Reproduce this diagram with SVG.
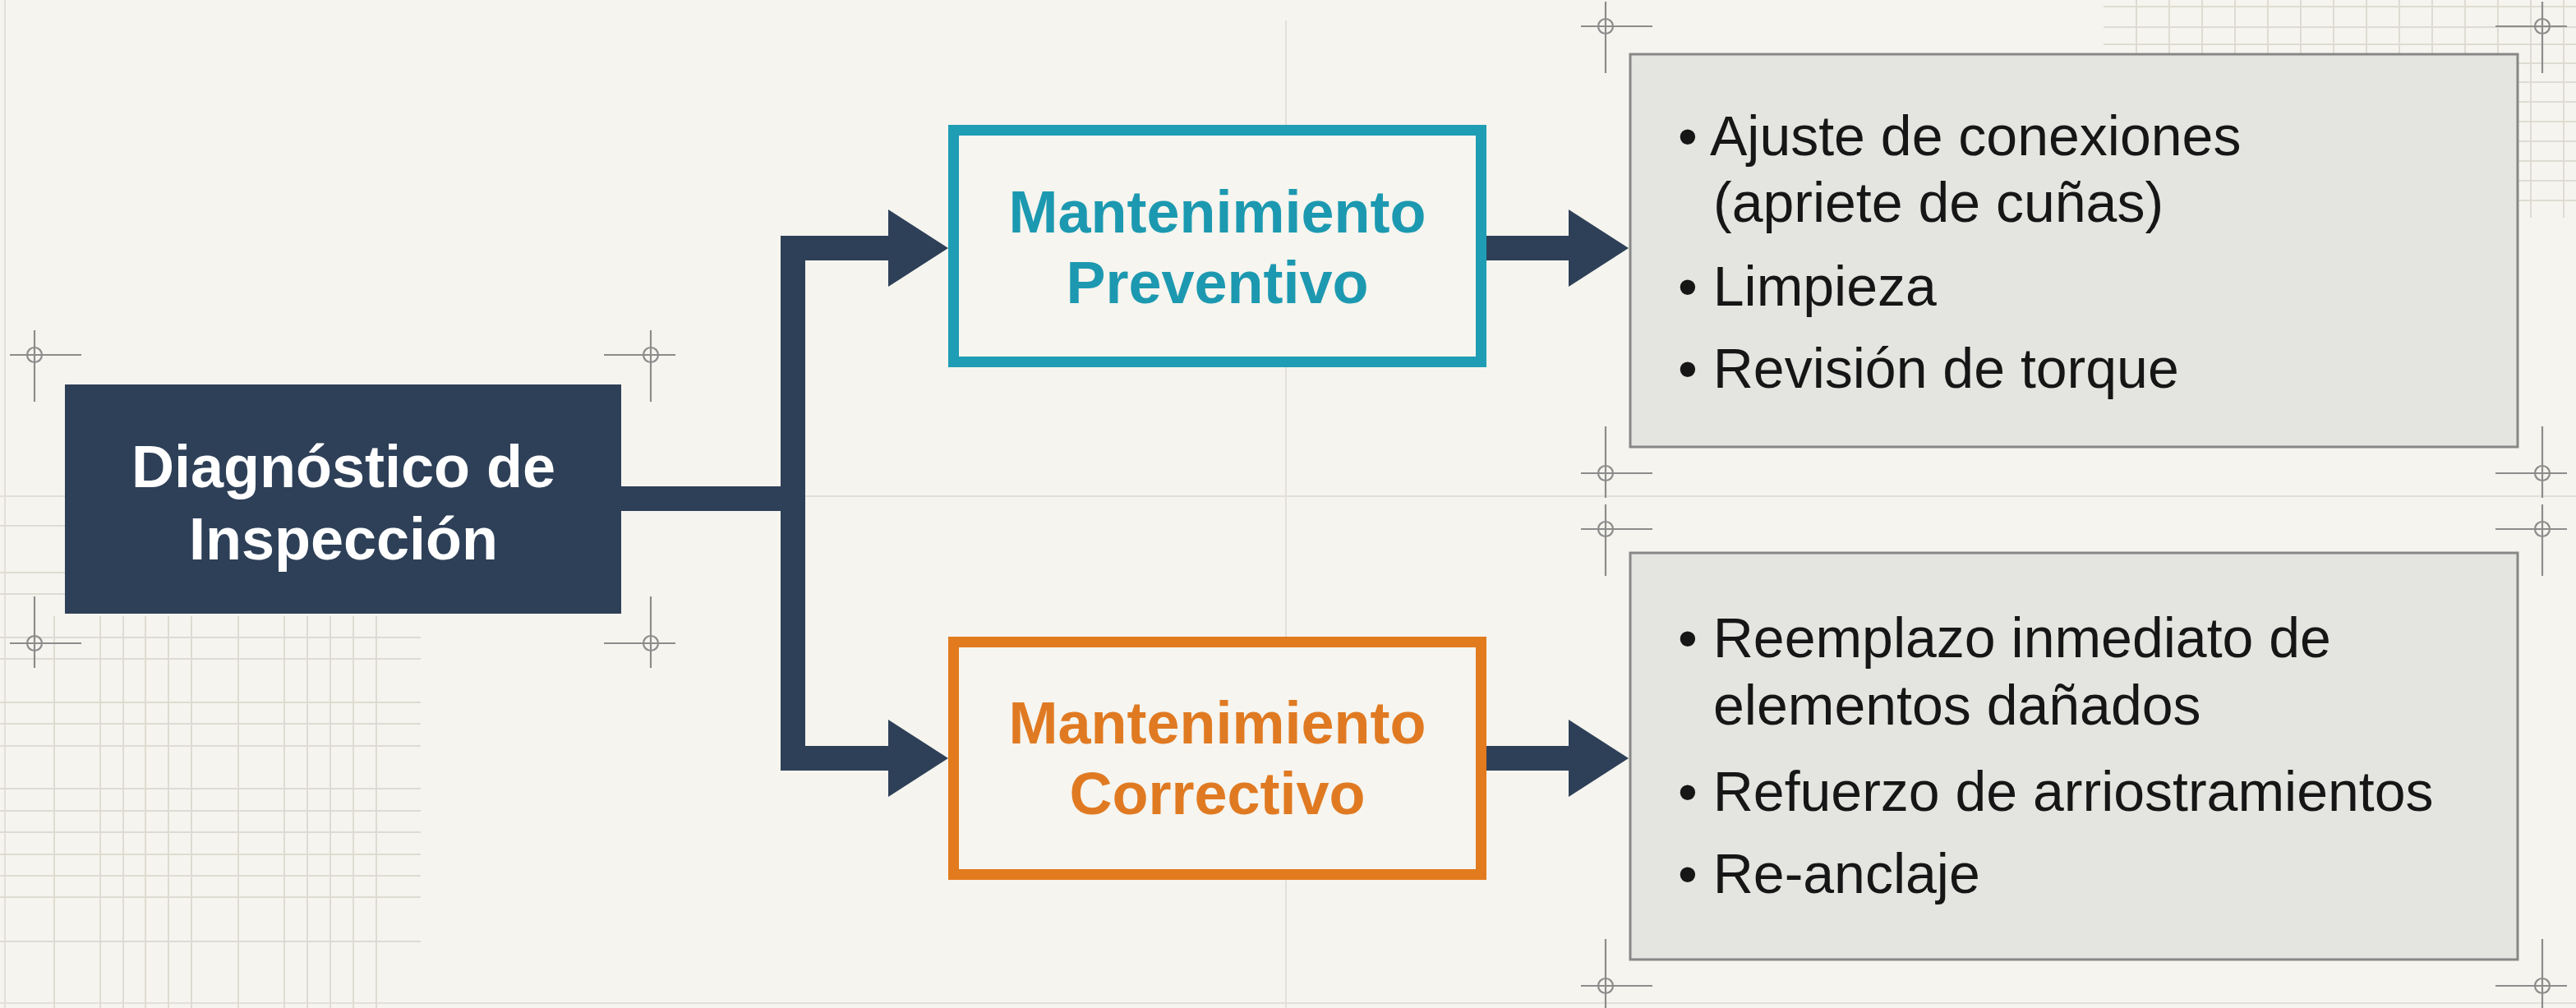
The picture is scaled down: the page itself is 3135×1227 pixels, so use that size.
<svg xmlns="http://www.w3.org/2000/svg" xmlns:xlink="http://www.w3.org/1999/xlink" width="3135" height="1227" viewBox="0 0 3135 1227">
  <style>
    .grid { stroke: #dedcd2; stroke-width: 2; fill: none; }
    .guide { stroke: #e2e0d7; stroke-width: 2; fill: none; }
    .mark { stroke: #8c8c8c; stroke-width: 2.2; fill: none; }
    .title { font-family: "Liberation Sans", Arial, sans-serif; font-weight: bold; font-size: 72px; text-anchor: middle; }
    .item { font-family: "Liberation Sans", Arial, sans-serif; font-size: 68px; fill: #161616; }
    .bar { stroke: #2e4058; stroke-width: 30; fill: none; stroke-linejoin: miter; }
    .head { fill: #2e4058; }
    .panel { fill: #e4e4e0; stroke: #878787; stroke-width: 3; }
  </style>
  <defs>
    <!-- registration crosshair: long arms point right and down -->
    <g id="cross">
      <circle class="mark" cx="0" cy="0" r="9"/>
      <line class="mark" x1="-30" y1="0" x2="57" y2="0"/>
      <line class="mark" x1="0" y1="-30" x2="0" y2="57"/>
    </g>
    <!-- arrowhead, tip at origin pointing right -->
    <polygon id="ahead" class="head" points="-73,-47 0,0 -73,47"/>
  </defs>

  <!-- paper -->
  <rect x="0" y="0" width="3135" height="1227" fill="#f5f4ee"/>

  <!-- background guides -->
  <g id="guides">
    <line class="guide" x1="6" y1="0" x2="6" y2="1227"/>
    <line class="guide" x1="1565" y1="25" x2="1565" y2="1227"/>
    <line class="guide" x1="0" y1="604" x2="3135" y2="604"/>
    <line class="guide" x1="0" y1="1221" x2="3135" y2="1221"/>
  </g>

  <!-- lower-left grid patch -->
  <g id="grid-lower-left" class="grid">
    <path d="M66 750V1227M122 750V1227M150 750V1227M177 750V1227M205 750V1227M233 750V1227M290 750V1227M346 750V1227M374 750V1227M402 750V1227M430 750V1227M458 750V1227"/>
    <path d="M0 776H512M0 802H512M0 855H512M0 881H512M0 908H512M0 960H512M0 987H512M0 1013H512M0 1040H512M0 1066H512M0 1092H512M0 1146H512"/>
    <path d="M0 640H80M0 697H80M0 723H80"/>
  </g>

  <!-- upper-right grid patch -->
  <g id="grid-upper-right" class="grid">
    <path d="M2600 0V265M2640 0V265M2680 0V265M2720 0V265M2760 0V265M2800 0V265M2840 0V265M2880 0V265M2920 0V265M2960 0V265M3000 0V265M3040 0V265M3080 0V265M3120 0V265"/>
    <path d="M2560 8H3135M2560 33H3135M2560 54H3135M2560 77H3135M2560 100H3135M2560 124H3135M2560 148H3135M2560 172H3135M2560 196H3135M2560 220H3135M2560 244H3135"/>
  </g>

  <!-- crosshair marks -->
  <g id="marks">
    <use xlink:href="#cross" transform="translate(42,432)"/>
    <use xlink:href="#cross" transform="translate(792,432) scale(-1,1)"/>
    <use xlink:href="#cross" transform="translate(42,783) scale(1,-1)"/>
    <use xlink:href="#cross" transform="translate(792,783) scale(-1,-1)"/>
    <use xlink:href="#cross" transform="translate(1954,32)"/>
    <use xlink:href="#cross" transform="translate(3094,32) scale(-1,1)"/>
    <use xlink:href="#cross" transform="translate(1954,576) scale(1,-1)"/>
    <use xlink:href="#cross" transform="translate(3094,576) scale(-1,-1)"/>
    <use xlink:href="#cross" transform="translate(1954,644)"/>
    <use xlink:href="#cross" transform="translate(3094,644) scale(-1,1)"/>
    <use xlink:href="#cross" transform="translate(1954,1200) scale(1,-1)"/>
    <use xlink:href="#cross" transform="translate(3094,1200) scale(-1,-1)"/>
  </g>

  <!-- connectors -->
  <g id="connectors">
    <path class="bar" d="M756 607H965"/>
    <path class="bar" d="M1090 302H965V923H1090"/>
    <use xlink:href="#ahead" x="1154" y="302"/>
    <use xlink:href="#ahead" x="1154" y="923"/>
    <path class="bar" d="M1809 302H1915"/>
    <use xlink:href="#ahead" x="1982" y="302"/>
    <path class="bar" d="M1809 923H1915"/>
    <use xlink:href="#ahead" x="1982" y="923"/>
  </g>

  <!-- source node -->
  <g id="node-diagnostico">
    <rect x="79" y="468" width="677" height="279" fill="#2e4058"/>
    <text class="title" fill="#ffffff" x="418" y="593">Diagnóstico de</text>
    <text class="title" fill="#ffffff" x="418" y="681">Inspección</text>
  </g>

  <!-- preventive branch -->
  <g id="node-preventivo">
    <rect x="1160.5" y="158.5" width="642" height="282" fill="#f6f5ef" stroke="#1e9db4" stroke-width="13"/>
    <text class="title" fill="#1c99b0" x="1481.5" y="283">Mantenimiento</text>
    <text class="title" fill="#1c99b0" x="1481.5" y="369">Preventivo</text>
  </g>

  <!-- corrective branch -->
  <g id="node-correctivo">
    <rect x="1160.5" y="781.5" width="642" height="283" fill="#f6f5ef" stroke="#e27a1e" stroke-width="13"/>
    <text class="title" fill="#e07a22" x="1481.5" y="905">Mantenimiento</text>
    <text class="title" fill="#e07a22" x="1481.5" y="991">Correctivo</text>
  </g>

  <!-- preventive tasks -->
  <g id="node-tareas-preventivas">
    <rect class="panel" x="1984" y="66" width="1080" height="478"/>
    <text class="item" x="2042" y="189">• Ajuste de conexiones</text>
    <text class="item" x="2085" y="270">(apriete de cuñas)</text>
    <text class="item" x="2042" y="372">• Limpieza</text>
    <text class="item" x="2042" y="472">• Revisión de torque</text>
  </g>

  <!-- corrective tasks -->
  <g id="node-tareas-correctivas">
    <rect class="panel" x="1984" y="673" width="1080" height="495"/>
    <text class="item" x="2042" y="800">• Reemplazo inmediato de</text>
    <text class="item" x="2085" y="882">elementos dañados</text>
    <text class="item" x="2042" y="987">• Refuerzo de arriostramientos</text>
    <text class="item" x="2042" y="1087">• Re-anclaje</text>
  </g>
</svg>
